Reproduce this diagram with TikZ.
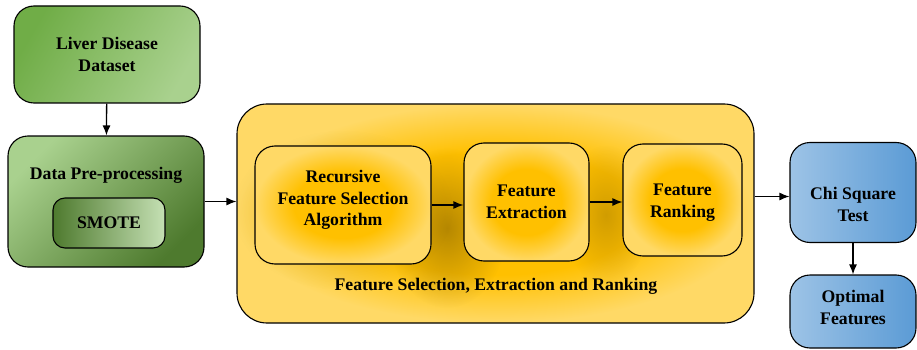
\documentclass[tikz,border=0pt]{standalone}
\usepackage{fontspec}
\setmainfont{Liberation Serif}
\usetikzlibrary{arrows, arrows.meta, fadings}

\definecolor{leafdark}{HTML}{4E7A2E}
\definecolor{leafmid}{HTML}{70AD47}
\definecolor{leaflight}{HTML}{A9D18E}
\definecolor{leafpale}{HTML}{C5E0B4}
\definecolor{goldcore}{HTML}{FFC000}
\definecolor{goldedge}{HTML}{FFD966}
\definecolor{goldshade}{HTML}{7A5A00}
\definecolor{skylight}{HTML}{9DC3E6}
\definecolor{skymid}{HTML}{5B9BD5}

\pgfdeclareradialshading{goldspot}{\pgfpoint{0bp}{0bp}}{%
  color(0bp)=(goldcore); color(14bp)=(goldcore); color(25bp)=(goldedge); color(50bp)=(goldedge)}
\tikzfading[name=softspot, inner color=transparent!0, outer color=transparent!100]

\begin{document}
\begin{tikzpicture}[x=1pt,y=-1pt,>={Latex[length=10pt,width=8pt]},
  every node/.style={align=center, font=\bfseries\fontsize{17.7}{21.7}\selectfont},
  roundbox/.style={draw, line width=1.1pt, rounded corners=20pt},
  greenbox/.style={roundbox, shade, top color=leafmid, bottom color=leaflight, shading angle=60},
  yellowbox/.style={roundbox, shade, shading=goldspot},
  bluebox/.style={roundbox, left color=skylight, middle color=skymid, right color=skymid},
  glow/.style={fill=goldshade, opacity=0.55, path fading=softspot},
  link/.style={->, line width=1.3pt}]

\useasboundingbox (0,0) rectangle (917,350);

% define the boxes on the left
  \node[greenbox, minimum width=186, minimum height=97] (dataset) at (107,54.5)
{Liver Disease\\Dataset};
  \node[greenbox, top color=leaflight, middle color=leafmid!85!black, bottom color=leafdark,
        shading angle=45, minimum width=196, minimum height=131] (preproc) at (106,201.5) {};
  \node (preproctitle) at (106,175) {Data Pre-processing};
  \node[roundbox, rounded corners=12pt, left color=leafdark, middle color=leafmid, right color=leafpale,
        minimum width=112, minimum height=50] (smote) at (109,223) {SMOTE};

% define the big yellow box and its steps
  \node[yellowbox, rounded corners=30pt, minimum width=517, minimum height=219] (fsbox) at (495.5,213.5) {};
  \fill[glow] (447,228) ellipse (60 and 80);
  \fill[glow, opacity=0.35] (606,215) ellipse (45 and 70);
  \fill[glow, opacity=0.25] (343,210) ellipse (110 and 80);
  \node (fscaption) at (496,286) {Feature Selection, Extraction and Ranking};
  \node[yellowbox, minimum width=176, minimum height=118] (rfs) at (343,205) {};
  \node (rfstext) at ([yshift=5pt]rfs.center) {Recursive\\Feature Selection\\Algorithm};
  \node[yellowbox, minimum width=125, minimum height=118] (extract) at (526.5,202)
{Feature\\Extraction};
  \node[yellowbox, minimum width=119, minimum height=112] (rank) at (682.5,200) {};
  \node (ranktext) at ([yshift=-3pt]rank.center) {Feature\\Ranking};

% define the boxes on the right
  \node[bluebox, minimum width=126, minimum height=100] (chi) at (853,192.5) {};
  \node (chitext) at ([yshift=-12pt]chi.center) {Chi Square\\Test};
  \node[bluebox, minimum width=126, minimum height=73] (optimal) at (853,311.5) {};
  \node (optimaltext) at ([yshift=4pt]optimal.center) {Optimal\\Features};

% define the links
  \draw[link] (dataset) -- (preproc);
  \draw[link] (preproc.east) -- (preproc.east -| fsbox.west);
  \draw[link] (rfs.east) -- (rfs.east -| extract.west);
  \draw[link] (extract.east) -- (extract.east -| rank.west);
  \draw[link] ([yshift=-4pt]chi.west -| fsbox.east) -- ([yshift=-4pt]chi.west);
  \draw[link] (chi) -- (optimal);

\end{tikzpicture}
\end{document}
